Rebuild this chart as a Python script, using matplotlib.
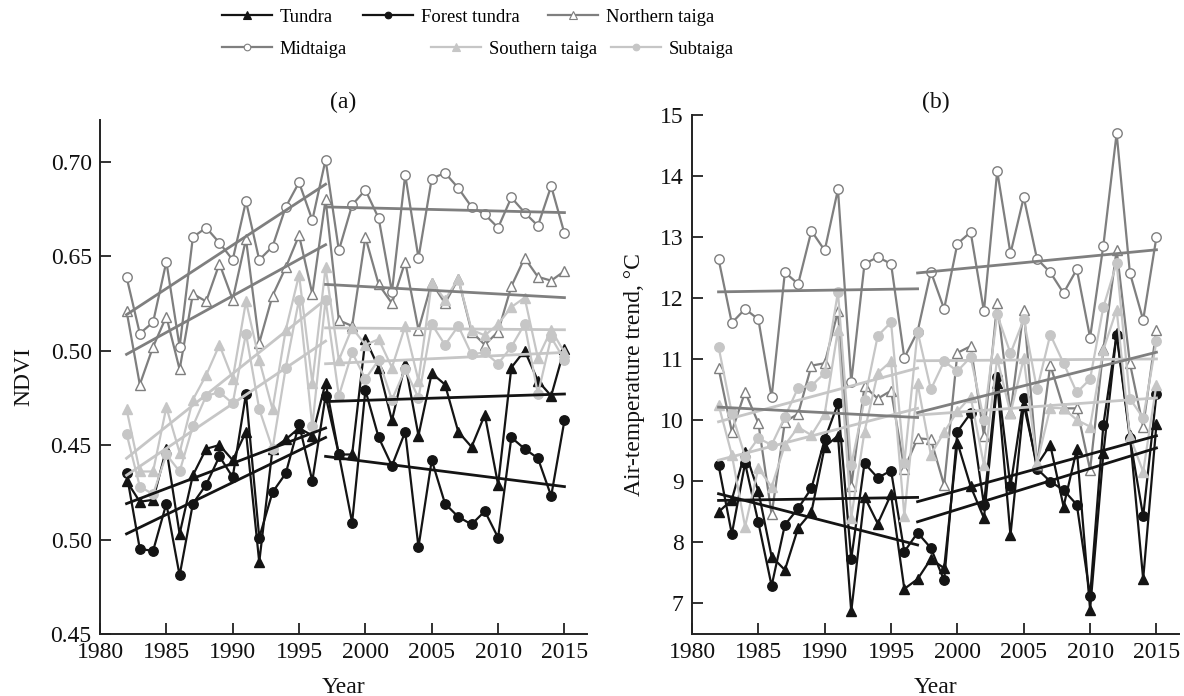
import matplotlib
matplotlib.use('Agg')
import matplotlib.pyplot as plt
from matplotlib.lines import Line2D

plt.rcParams['font.family'] = ['Liberation Serif', 'DejaVu Serif']

# ---------------- data ----------------
years = list(range(1982, 2016))
period1 = [1982, 1997]
period2 = [1997, 2015]

series_names = ["Tundra", "Forest tundra", "Northern taiga",
                "Midtaiga", "Southern taiga", "Subtaiga"]

ndvi_tundra = [0.531, 0.520, 0.521, 0.548, 0.503, 0.534, 0.548, 0.550, 0.542, 0.557, 0.488, 0.548, 0.553, 0.559, 0.555, 0.583,
               0.545, 0.545, 0.606, 0.591, 0.563, 0.593, 0.555, 0.588, 0.582, 0.557, 0.549, 0.566, 0.529, 0.591, 0.600, 0.584, 0.576, 0.601]
ndvi_forest_tundra = [0.535, 0.495, 0.494, 0.519, 0.481, 0.519, 0.529, 0.544, 0.533, 0.577, 0.501, 0.525, 0.535, 0.561, 0.531, 0.576,
                      0.545, 0.509, 0.579, 0.554, 0.539, 0.557, 0.496, 0.542, 0.519, 0.512, 0.508, 0.515, 0.501, 0.554, 0.548, 0.543, 0.523, 0.563]
ndvi_northern_taiga = [0.621, 0.582, 0.602, 0.618, 0.590, 0.630, 0.626, 0.646, 0.627, 0.659, 0.604, 0.629, 0.644, 0.661, 0.630, 0.680,
                       0.616, 0.613, 0.660, 0.635, 0.625, 0.647, 0.611, 0.636, 0.625, 0.638, 0.610, 0.603, 0.610, 0.634, 0.649, 0.639, 0.637, 0.642]
ndvi_midtaiga = [0.639, 0.609, 0.615, 0.647, 0.602, 0.660, 0.665, 0.657, 0.648, 0.679, 0.648, 0.655, 0.676, 0.689, 0.669, 0.701,
                 0.653, 0.677, 0.685, 0.670, 0.631, 0.693, 0.649, 0.691, 0.694, 0.686, 0.676, 0.672, 0.665, 0.681, 0.673, 0.666, 0.687, 0.662]
ndvi_southern_taiga = [0.569, 0.536, 0.536, 0.570, 0.546, 0.574, 0.587, 0.603, 0.585, 0.626, 0.595, 0.569, 0.611, 0.640, 0.583, 0.644,
                       0.595, 0.612, 0.603, 0.606, 0.591, 0.613, 0.584, 0.636, 0.627, 0.638, 0.611, 0.608, 0.614, 0.623, 0.628, 0.596, 0.611, 0.599]
ndvi_subtaiga = [0.556, 0.528, 0.524, 0.545, 0.536, 0.560, 0.576, 0.578, 0.572, 0.609, 0.569, 0.548, 0.591, 0.627, 0.560, 0.627,
                 0.576, 0.599, 0.585, 0.595, 0.574, 0.590, 0.575, 0.614, 0.603, 0.613, 0.598, 0.599, 0.593, 0.602, 0.614, 0.577, 0.607, 0.595]

# trend lines: [value at start, value at end] for period 1 and period 2
ndvi_trend1 = [[0.519, 0.559], [0.503, 0.554], [0.598, 0.656], [0.619, 0.688], [0.543, 0.627], [0.534, 0.605]]
ndvi_trend2 = [[0.573, 0.577], [0.544, 0.528], [0.635, 0.628], [0.676, 0.673], [0.612, 0.611], [0.593, 0.599]]

temp_tundra = [8.49, 8.69, 9.48, 8.83, 7.76, 7.54, 8.23, 8.49, 9.56, 9.74, 6.86, 8.74, 8.30, 8.78, 7.23, 7.39,
               7.72, 7.57, 9.63, 8.91, 8.39, 10.60, 8.11, 10.25, 9.26, 9.59, 8.58, 9.52, 6.89, 9.45, 11.42, 9.75, 7.39, 9.93]
temp_forest_tundra = [9.26, 8.13, 9.29, 8.32, 7.28, 8.28, 8.55, 8.88, 9.68, 10.27, 7.72, 9.29, 9.05, 9.17, 7.84, 8.15,
                      7.90, 7.37, 9.81, 10.11, 8.61, 10.71, 8.91, 10.36, 9.20, 8.99, 8.85, 8.61, 7.11, 9.92, 11.40, 9.70, 8.42, 10.42]
temp_northern_taiga = [10.85, 9.81, 10.46, 9.95, 8.45, 9.97, 10.10, 10.89, 10.93, 11.78, 8.91, 10.55, 10.35, 10.48, 9.20, 9.70,
                       9.68, 8.93, 11.10, 11.21, 9.74, 11.91, 10.11, 11.81, 9.26, 10.90, 10.19, 10.19, 9.18, 11.16, 12.79, 10.93, 9.89, 11.48]
temp_midtaiga = [12.64, 11.59, 11.82, 11.65, 10.37, 12.42, 12.23, 13.10, 12.78, 13.78, 10.62, 12.56, 12.67, 12.56, 11.02, 11.45,
                 12.43, 11.82, 12.89, 13.08, 11.78, 14.08, 12.73, 13.65, 12.64, 12.42, 12.08, 12.47, 11.35, 12.86, 14.70, 12.41, 11.64, 13.00]
temp_southern_taiga = [10.25, 9.43, 8.25, 9.21, 8.90, 9.59, 9.88, 9.75, 10.10, 11.48, 8.40, 9.81, 10.77, 10.96, 8.43, 10.60,
                       9.43, 9.80, 10.14, 10.38, 9.26, 11.01, 10.11, 11.01, 9.29, 10.20, 10.19, 10.00, 9.89, 11.15, 11.81, 9.73, 9.15, 10.58]
temp_subtaiga = [11.20, 10.11, 9.40, 9.70, 9.59, 10.05, 10.53, 10.56, 10.77, 12.10, 9.26, 10.33, 11.38, 11.60, 9.29, 11.45,
                 10.50, 10.96, 10.80, 11.03, 10.00, 11.73, 11.09, 11.65, 10.50, 11.40, 10.93, 10.45, 10.67, 11.85, 12.57, 10.35, 10.03, 11.29]

temp_trend1 = [[8.79, 7.95], [8.68, 8.73], [10.21, 10.04], [12.10, 12.15], [9.34, 10.19], [9.97, 10.85]]
temp_trend2 = [[8.33, 9.54], [8.66, 9.74], [10.12, 11.11], [12.41, 12.79], [10.08, 10.36], [10.97, 11.00]]

x_ticks = [1980, 1985, 1990, 1995, 2000, 2005, 2010, 2015]
ndvi_tick_values = [0.45, 0.50, 0.55, 0.60, 0.65, 0.70]
ndvi_tick_labels = ["0.45", "0.50", "0.45", "0.50", "0.65", "0.70"]
temp_ticks = [7, 8, 9, 10, 11, 12, 13, 14, 15]

ndvi_series = [ndvi_tundra, ndvi_forest_tundra, ndvi_northern_taiga,
               ndvi_midtaiga, ndvi_southern_taiga, ndvi_subtaiga]
temp_series = [temp_tundra, temp_forest_tundra, temp_northern_taiga,
               temp_midtaiga, temp_southern_taiga, temp_subtaiga]

# ---------------- styles ----------------
BLACK = '#141414'
DARK = '#7f7f7f'
LIGHT = '#c6c6c6'
styles = [
    dict(color=BLACK, marker='^', mfc=BLACK, ms=7.5),
    dict(color=BLACK, marker='o', mfc=BLACK, ms=6.8),
    dict(color=DARK, marker='^', mfc='white', ms=7.5),
    dict(color=DARK, marker='o', mfc='white', ms=6.8),
    dict(color=LIGHT, marker='^', mfc=LIGHT, ms=7.5),
    dict(color=LIGHT, marker='o', mfc=LIGHT, ms=6.8),
]
draw_order = [4, 5, 2, 3, 0, 1]

W, H = 1184, 696
fig = plt.figure(figsize=(W / 100, H / 100), dpi=100)
axL = fig.add_axes([100 / W, 62 / H, 487 / W, 514 / H])
axR = fig.add_axes([692 / W, 62 / H, 487 / W, 519 / H])

FS = 17


def draw(ax, series, tr1, tr2):
    for i in draw_order:
        st = styles[i]
        ax.plot(years, series[i], color=st['color'], lw=1.6, marker=st['marker'],
                ms=st['ms'], mfc=st['mfc'], mec=st['color'], mew=1.0, zorder=2 + i * 0.01)
    for i in draw_order:
        st = styles[i]
        ax.plot(period1, tr1[i], color=st['color'], lw=2.0, zorder=3)
        ax.plot(period2, tr2[i], color=st['color'], lw=2.0, zorder=3)
    for s in ['top', 'right']:
        ax.spines[s].set_visible(False)
    for s in ['left', 'bottom']:
        ax.spines[s].set_linewidth(1.4)
        ax.spines[s].set_color('#222222')
    ax.tick_params(direction='in', length=8, width=1.3, labelsize=FS, colors='#222222',
                   labelcolor='#111111', pad=6)
    ax.set_xticks(x_ticks)
    ax.set_xlim(1980, 2016.7)
    ax.set_xlabel('Year', fontsize=FS, labelpad=10, color='#111111')


draw(axL, ndvi_series, ndvi_trend1, ndvi_trend2)
axL.set_ylim(0.45, 0.722)
axL.set_yticks(ndvi_tick_values)
axL.set_yticklabels(ndvi_tick_labels)
axL.set_ylabel('NDVI', fontsize=FS, labelpad=12, color='#111111')

draw(axR, temp_series, temp_trend1, temp_trend2)
axR.set_ylim(6.49, 15.0)
axR.set_yticks(temp_ticks)
axR.set_ylabel('Air-temperature trend, °C', fontsize=FS, labelpad=11, color='#111111')

fig.text(343.5 / W, 1 - 102 / H, '(a)', ha='center', va='center', fontsize=FS, color='#111111')
fig.text(935.5 / W, 1 - 102 / H, '(b)', ha='center', va='center', fontsize=FS, color='#111111')

# ---------------- legend ----------------
legend_pos = [(222, 17), (363, 17), (548, 17), (222, 49), (431, 49), (611, 49)]
LFS = 13.4
for i, name in enumerate(series_names):
    st = styles[i]
    h = Line2D([0], [0], color=st['color'], lw=1.6, marker=st['marker'], ms=st['ms'] * 0.7,
               mfc=st['mfc'], mec=st['color'], mew=0.8)
    x0, y0 = legend_pos[i]
    fig.legend(handles=[h], labels=[name], loc='center left',
               bbox_to_anchor=(x0 / W, 1 - y0 / H), frameon=False, fontsize=LFS,
               handlelength=2.7, handletextpad=0.4, borderpad=0, borderaxespad=0)

fig.savefig('out.png', dpi=100)
